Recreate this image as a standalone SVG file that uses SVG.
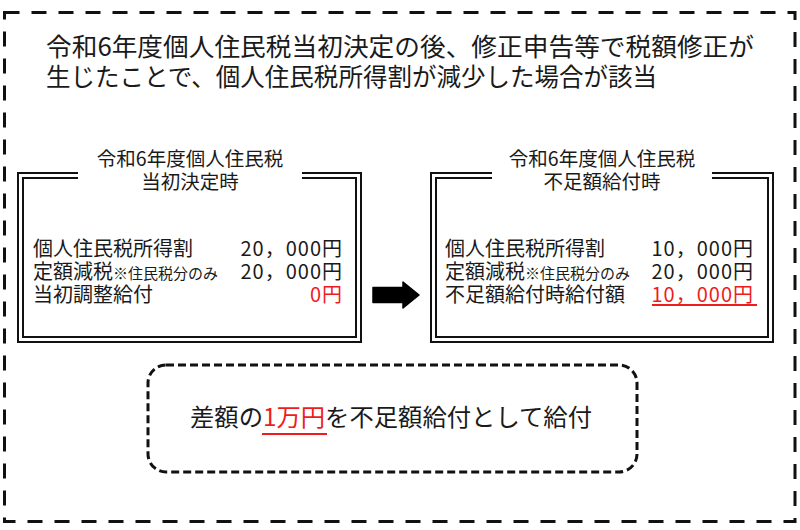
<svg xmlns="http://www.w3.org/2000/svg" width="800" height="530" viewBox="0 0 800 530">
<style>
text{font-family:"Noto Sans CJK JP","Noto Sans",sans-serif;fill:#1a1a1a}
.h{font-size:25px}
.t{font-size:19.5px;text-anchor:middle}
.b{font-size:20px}
.s{font-size:15px}
.v{font-size:20px;text-anchor:end;letter-spacing:1px}
.red{fill:#ee1c1c}
.dbl{fill:none;stroke:#111;stroke-width:2}
.ul{stroke:#ee1c1c;stroke-width:2}
</style>
<rect width="800" height="530" fill="#fff"/>
<g id="frame">
<rect x="4.5" y="12.5" width="790.5" height="509" fill="none" stroke="#111" stroke-width="3" stroke-dasharray="15 12"/>
</g>
<g id="heading">
<text class="h" x="46" y="56" textLength="708" lengthAdjust="spacingAndGlyphs">令和6年度個人住民税当初決定の後、修正申告等で税額修正が</text>
<text class="h" x="46" y="86" textLength="611" lengthAdjust="spacingAndGlyphs">生じたことで、個人住民税所得割が減少した場合が該当</text>
</g>
<g id="box-initial">
<path class="dbl" d="M78,173 H18 V342 H361 V173 H302"/>
<path class="dbl" d="M78,178 H23 V337 H356 V178 H302"/>
<text class="t" x="190" y="166">令和6年度個人住民税</text>
<text class="t" x="190" y="189">当初決定時</text>
<text class="b" x="33" y="256">個人住民税所得割</text>
<text class="b" x="33" y="279">定額減税<tspan class="s">※住民税分のみ</tspan></text>
<text class="b" x="33" y="302">当初調整給付</text>
<text class="v" x="343" y="256">20，000円</text>
<text class="v" x="343" y="279">20，000円</text>
<text class="v red" x="343" y="302">0円</text>
</g>
<g id="connectors">
<path d="M373,287.5 H403 V282 L419,295 L403,308 V302.5 H373 Z" fill="#000" stroke="#000" stroke-width="1.5" stroke-linejoin="round"/>
</g>
<g id="box-shortfall">
<path class="dbl" d="M492,173 H431 V342 H773 V173 H712"/>
<path class="dbl" d="M492,178 H436 V337 H768 V178 H712"/>
<text class="t" x="602" y="166">令和6年度個人住民税</text>
<text class="t" x="602" y="189">不足額給付時</text>
<text class="b" x="445" y="256">個人住民税所得割</text>
<text class="b" x="445" y="279">定額減税<tspan class="s">※住民税分のみ</tspan></text>
<text class="b" x="445" y="302">不足額給付時給付額</text>
<text class="v" x="754" y="256">10，000円</text>
<text class="v" x="754" y="279">20，000円</text>
<text class="v red" x="754" y="302">10，000円</text>
<line class="ul" x1="652" y1="305" x2="757" y2="305"/>
</g>
<g id="result">
<rect x="148" y="365" width="489" height="107" rx="18" fill="none" stroke="#111" stroke-width="3" stroke-dasharray="8 4"/>
<text x="190" y="426" font-size="24" textLength="402" lengthAdjust="spacingAndGlyphs">差額の<tspan class="red">1万円</tspan>を不足額給付として給付</text>
<line class="ul" x1="262" y1="434" x2="327" y2="434"/>
</g>
</svg>
